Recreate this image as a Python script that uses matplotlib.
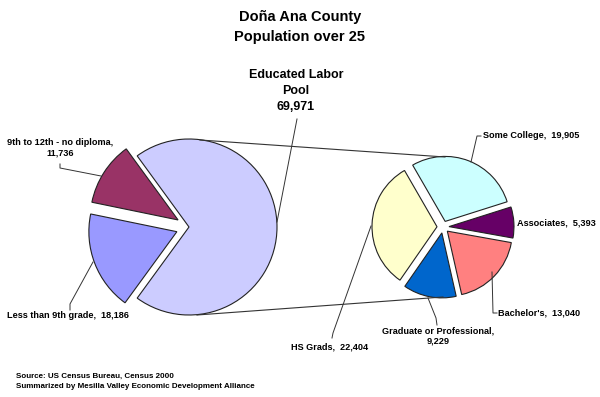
import matplotlib
matplotlib.use("Agg")
import matplotlib.pyplot as plt
from matplotlib import font_manager

# ---- data ----
left_labels = ["Educated Labor Pool", "9th to 12th - no diploma", "Less than 9th grade"]
left_values = [69971, 11736, 18186]
left_colors = ["#CCCCFF", "#993366", "#9999FF"]

right_labels = ["Some College", "Associates", "Bachelor's", "Graduate or Professional", "HS Grads"]
right_values = [19905, 5393, 13040, 9229, 22404]
right_colors = ["#CCFFFF", "#660066", "#FF8080", "#0066CC", "#FFFFCC"]

W, H = 600, 397

names = {f.name for f in font_manager.fontManager.ttflist}
narrow = "Liberation Sans Narrow" if "Liberation Sans Narrow" in names else "Liberation Sans"
title_font = ["Liberation Sans", "DejaVu Sans"]
lab_font = [narrow, "Liberation Sans", "DejaVu Sans"]

fig = plt.figure(figsize=(W / 100, H / 100), dpi=100)
ax = fig.add_axes([0, 0, 1, 1])


def P(x, y):
    return (x, H - y)


edge = dict(edgecolor="#222222", linewidth=0.8)

# left pie
lfrac0 = left_values[0] / sum(left_values) * 360
ax.pie(left_values, colors=left_colors, startangle=-lfrac0 / 2, counterclock=True,
       center=P(189, 227), radius=88, explode=[0, 13, 13], wedgeprops=edge, frame=True)

# right pie (clockwise from top-left)
ax.pie(right_values, colors=right_colors, startangle=120, counterclock=False,
       center=P(443, 227), radius=65, explode=[6] * 5, wedgeprops=edge, frame=True)

ax.set_xlim(0, W)
ax.set_ylim(0, H)
ax.set_aspect("equal")
ax.axis("off")

# connector lines
ax.plot(*zip(P(200, 140), P(445, 157)), color="#333333", lw=0.8)
ax.plot(*zip(P(197, 315), P(443, 297)), color="#333333", lw=0.8)

# titles
ax.text(*P(300, 17), "Doña Ana County", ha="center", va="center", fontsize=10.5,
        fontweight="bold", family=title_font)
ax.text(*P(300, 37), "Population over 25", ha="center", va="center", fontsize=10.5,
        fontweight="bold", family=title_font)

def fmt(v):
    return f"{v:,}"

# big label
ax.text(*P(296, 91), f"Educated Labor\nPool\n{fmt(left_values[0])}", ha="center", va="center",
        fontsize=9, fontweight="bold", family=lab_font, linespacing=1.45)
ax.plot(*zip(P(297, 119), P(277, 222)), color="#333333", lw=0.7)

lk = dict(fontsize=6.55, fontweight="bold", family=lab_font)
lc = "#333333"

ax.text(*P(60, 148), f"{left_labels[1]},\n{fmt(left_values[1])}", ha="center", va="center",
        linespacing=1.25, **lk)
ax.plot(*zip(P(60, 164), P(60, 168), P(101, 176)), color=lc, lw=0.7)

ax.text(*P(7, 316), f"{left_labels[2]},  {fmt(left_values[2])}", ha="left", va="center", **lk)
ax.plot(*zip(P(70, 310), P(70, 304), P(93, 262)), color=lc, lw=0.7)

ax.text(*P(483, 136), f"{right_labels[0]},  {fmt(right_values[0])}", ha="left", va="center", **lk)
ax.plot(*zip(P(481, 136), P(477, 136), P(471, 162)), color=lc, lw=0.7)

ax.text(*P(517, 223), f"{right_labels[1]},  {fmt(right_values[1])}", ha="left", va="center", **lk)

ax.text(*P(498, 313), f"{right_labels[2]},  {fmt(right_values[2])}", ha="left", va="center", **lk)
ax.plot(*zip(P(492, 272), P(493, 313), P(497, 313)), color=lc, lw=0.7)

ax.text(*P(438, 336), f"{right_labels[3]},\n{fmt(right_values[3])}", ha="center", va="center",
        linespacing=1.25, **lk)
ax.plot(*zip(P(428, 298), P(436, 318), P(437, 325)), color=lc, lw=0.7)

ax.text(*P(330, 347), f"{right_labels[4]},  {fmt(right_values[4])}", ha="center", va="center", **lk)
ax.plot(*zip(P(371, 226), P(333, 333), P(332, 338)), color=lc, lw=0.7)

# footer
fk = dict(fontsize=5.8, fontweight="bold", family=lab_font, ha="left", va="center")
ax.text(*P(16, 376), "Source: US Census Bureau, Census 2000", **fk)
ax.text(*P(16, 387), "Summarized by Mesilla Valley Economic Development Alliance", **fk)

fig.savefig("out.png", dpi=100)
